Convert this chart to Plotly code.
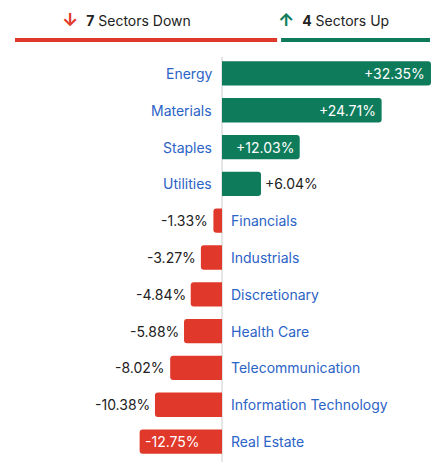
import plotly.graph_objects as go

categories = ["Energy", "Materials", "Staples", "Utilities", "Financials", "Industrials",
              "Discretionary", "Health Care", "Telecommunication", "Information Technology", "Real Estate"]
values = [32.35, 24.71, 12.03, 6.04, -1.33, -3.27, -4.84, -5.88, -8.02, -10.38, -12.75]
down_count = 7
up_count = 4

GREEN = "#0e7c5b"
RED = "#e0382a"
BLUE = "#2b63c6"
FONT = "Inter"

W, H = 442, 465
fig = go.Figure(go.Bar(
    x=values, y=categories, orientation="h",
    marker=dict(color=[GREEN if v > 0 else RED for v in values], line=dict(width=0)),
    width=0.66, hoverinfo="skip"))

ann = []
for c, v in zip(categories, values):
    txt = f"{v:+.2f}%"
    if v > 0:
        ann.append(dict(x=0, y=c, xref="x", yref="y", text=c, showarrow=False,
                        xanchor="right", xshift=-8, font=dict(color=BLUE, size=14, family=FONT)))
        if v > 10:
            ann.append(dict(x=v, y=c, text=txt, showarrow=False, xanchor="right", xshift=-4,
                            font=dict(color="white", size=14, family=FONT)))
        else:
            ann.append(dict(x=v, y=c, text=txt, showarrow=False, xanchor="left", xshift=2,
                            font=dict(color="#222", size=14, family=FONT)))
    else:
        ann.append(dict(x=0, y=c, text=c, showarrow=False, xanchor="left", xshift=7,
                        font=dict(color=BLUE, size=14, family=FONT)))
        if v < -12:
            ann.append(dict(x=v, y=c, text=txt, showarrow=False, xanchor="left", xshift=3,
                            font=dict(color="white", size=14, family=FONT)))
        else:
            ann.append(dict(x=v, y=c, text=txt, showarrow=False, xanchor="right", xshift=-3,
                            font=dict(color="#222", size=14, family=FONT)))

def py(p):
    return (460 - p) / 405

ann.append(dict(x=60 / W, y=py(19), xref="paper", yref="paper", showarrow=False,
                xanchor="left", yanchor="middle",
                text=f"<span style='color:{RED};font-size:18px'><b>↓</b></span>  <b>{down_count}</b> Sectors Down",
                font=dict(size=14, family=FONT, color="#222")))
ann.append(dict(x=276 / W, y=py(19), xref="paper", yref="paper", showarrow=False,
                xanchor="left", yanchor="middle",
                text=f"<span style='color:{GREEN};font-size:18px'><b>↑</b></span>  <b>{up_count}</b> Sectors Up",
                font=dict(size=14, family=FONT, color="#222")))

total = down_count + up_count
split = 15 + (430 - 15) * down_count / total
shapes = [
    dict(type="line", xref="paper", yref="paper", x0=15 / W, x1=(split - 2) / W, y0=py(40), y1=py(40),
         line=dict(color=RED, width=4)),
    dict(type="line", xref="paper", yref="paper", x0=(split + 2) / W, x1=430 / W, y0=py(40), y1=py(40),
         line=dict(color=GREEN, width=4)),
    dict(type="line", xref="x", yref="paper", x0=0, x1=0, y0=py(462), y1=py(57),
         line=dict(color="#ccc", width=1), layer="below"),
]

fig.update_layout(
    width=W, height=H, margin=dict(l=0, r=0, t=55, b=5),
    plot_bgcolor="white", paper_bgcolor="white", showlegend=False,
    barcornerradius=3,
    xaxis=dict(range=[-222 / 6.46, 220 / 6.46], visible=False, fixedrange=True),
    yaxis=dict(autorange="reversed", visible=False, fixedrange=True),
    annotations=ann, shapes=shapes,
)
fig.write_html("out.html", post_script="document.body.style.margin='0';document.body.style.overflow='hidden';",
               config={"displayModeBar": False})
